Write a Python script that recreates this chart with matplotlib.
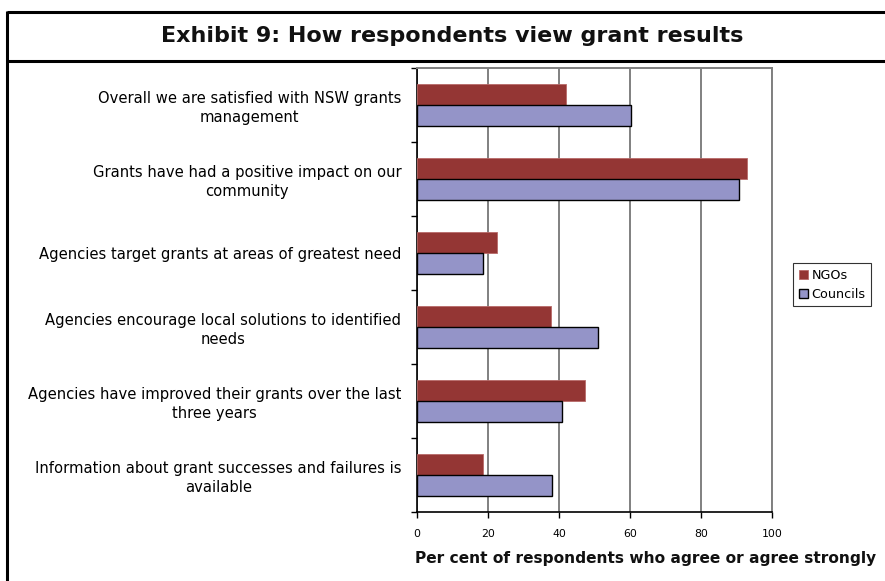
import matplotlib.pyplot as plt
from matplotlib.lines import Line2D
import numpy as np

# survey statements, top to bottom
statements = [
    "Overall we are satisfied with NSW grants\nmanagement",
    "Grants have had a positive impact on our\ncommunity",
    "Agencies target grants at areas of greatest need",
    "Agencies encourage local solutions to identified\nneeds",
    "Agencies have improved their grants over the last\nthree years",
    "Information about grant successes and failures is\navailable",
]
ngos = [42.1, 92.8, 22.6, 37.7, 47.4, 18.7]
councils = [60.4, 90.5, 18.7, 50.9, 41.0, 38.1]

W, H = 885, 581
fig = plt.figure(figsize=(W / 100, H / 100), dpi=100)
fig.patch.set_facecolor("white")

def fx(px):
    return px / W

def fy(py):
    return 1 - py / H

# frame around the exhibit
for x0, y0, x1, y1 in [(6.5, 11.5, W, 11.5), (6.5, 60.5, W, 60.5), (6.5, 10.5, 6.5, H)]:
    fig.add_artist(Line2D([fx(x0), fx(x1)], [fy(y0), fy(y1)], color="black", lw=2.2,
                          solid_capstyle="butt"))

fig.text(fx(452), fy(36), "Exhibit 9: How respondents view grant results",
         ha="center", va="center", fontsize=16, fontweight="bold", color="#111111")

ax = fig.add_axes([fx(416.7), fy(512), fx(772.3) - fx(416.7), (512 - 68) / H])

y = np.arange(len(statements))
h = 0.285
ax.barh(y - h / 2, ngos, height=h, color="#943634", edgecolor="#b86a68", lw=0.6,
        label="NGOs", zorder=3)
ax.barh(y + h / 2, councils, height=h, color="#9494c8", edgecolor="black", lw=1.0,
        label="Councils", zorder=3)

ax.set_xlim(0, 100)
ax.set_ylim(len(statements) - 0.5, -0.5)
ax.set_xticks(np.arange(0, 101, 20))
ax.tick_params(axis="x", labelsize=7.8, length=4, width=1, direction="out", pad=8)
ax.xaxis.grid(True, color="#808080", lw=1.4, zorder=0)
ax.set_axisbelow(True)

# group boundaries as major ticks, statements as minor labels
ax.set_yticks(np.arange(-0.5, len(statements), 1.0))
ax.set_yticklabels([])
ax.set_yticks(y, statements, minor=True)
ax.tick_params(axis="y", which="major", length=4, width=1, direction="out")
ax.tick_params(axis="y", which="minor", length=0, pad=11, labelsize=10.6)
for lab in ax.get_yticklabels(minor=True):
    lab.set_multialignment("center")
    lab.set_linespacing(1.3)

for s in ["left", "bottom"]:
    ax.spines[s].set_color("black")
    ax.spines[s].set_linewidth(1.2)
for s in ["top", "right"]:
    ax.spines[s].set_color("#808080")
    ax.spines[s].set_linewidth(1.4)

fig.text(fx(415), fy(559), "Per cent of respondents who agree or agree strongly",
         ha="left", va="center", fontsize=11.1, fontweight="bold", color="#111111")

leg = fig.legend(loc="upper left", bbox_to_anchor=(fx(793), fy(263)), fontsize=9.2,
                 frameon=True, fancybox=False, edgecolor="black", handlelength=0.7,
                 handleheight=0.7, handletextpad=0.3, borderpad=0.45, labelspacing=0.45,
                 borderaxespad=0)
leg.get_frame().set_linewidth(0.8)

fig.savefig("out.png", dpi=100)
